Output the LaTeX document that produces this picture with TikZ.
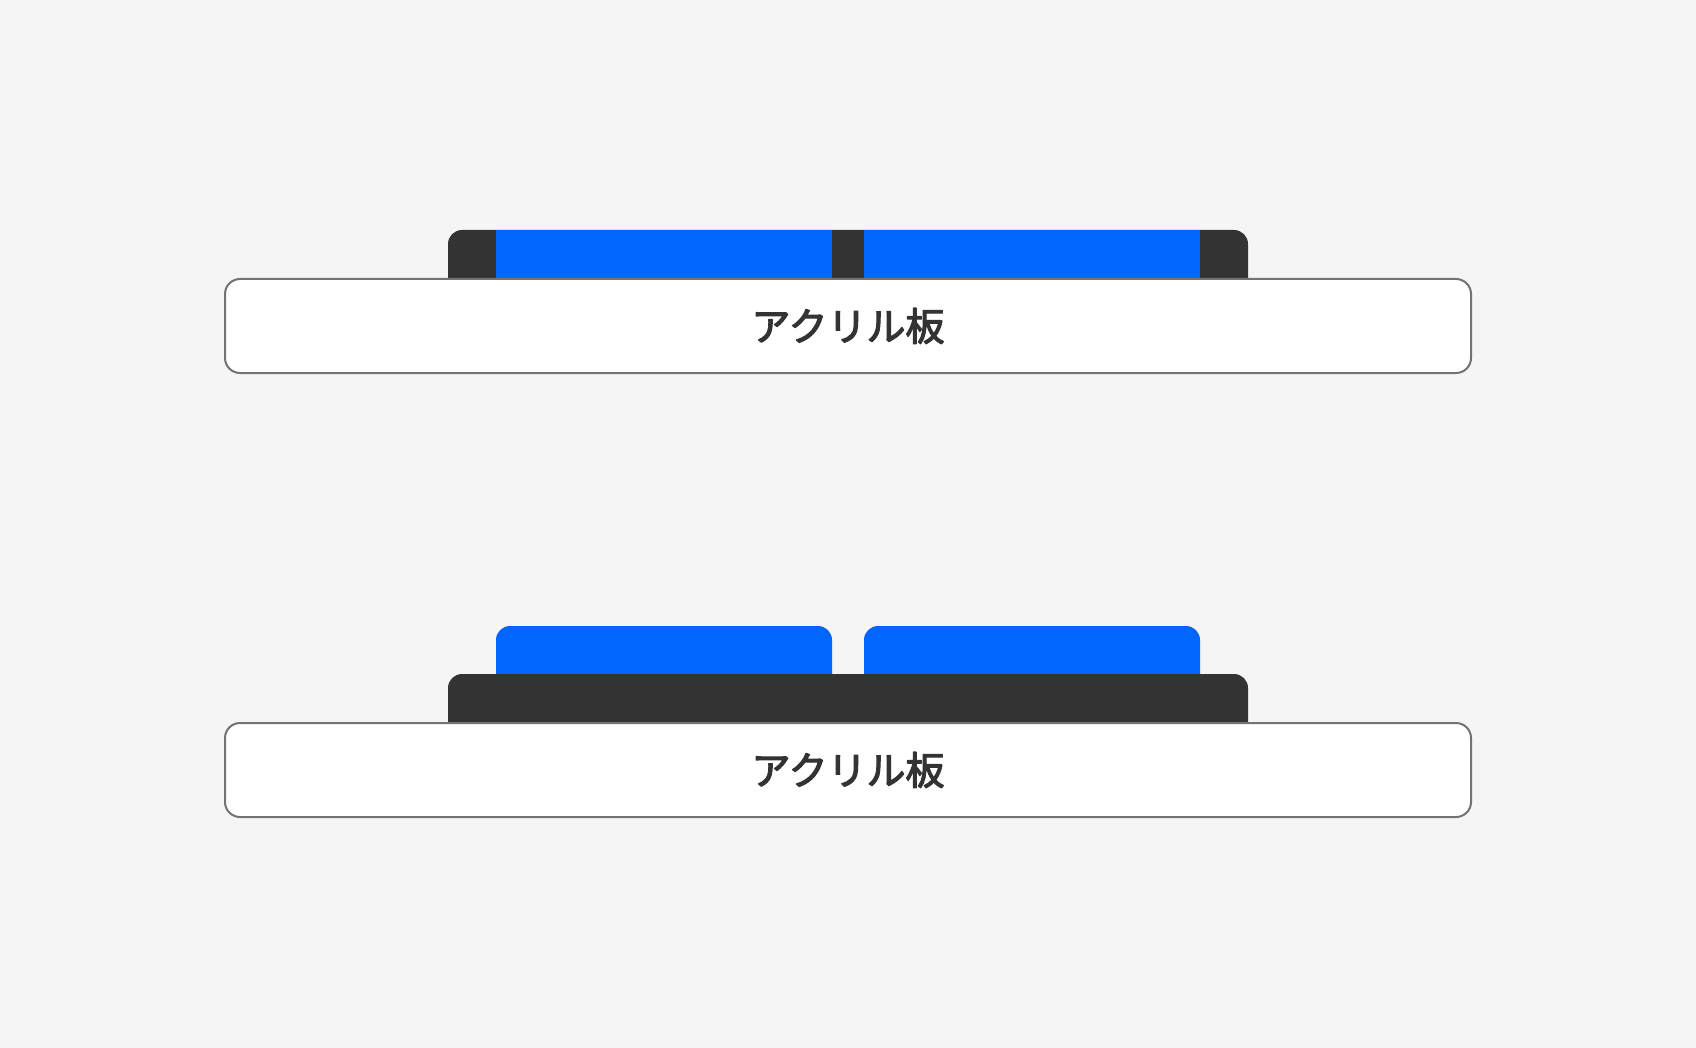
\documentclass[tikz,border=0pt]{standalone}
\usepackage{fontspec}
\newfontfamily\jpfont[UprightFeatures={FakeBold=3}]{Noto Sans CJK JP}
\definecolor{bg}{HTML}{F5F5F5}
\definecolor{ink}{HTML}{333333}
\definecolor{rim}{HTML}{737373}
\definecolor{key}{HTML}{0066FF}
\begin{document}
\begin{tikzpicture}[x=1pt, y=-1pt, line join=round,
	plate/.style={draw=rim, line width=2pt, fill=white, rounded corners=15pt, minimum width=1246pt, minimum height=94pt, text=ink, font=\jpfont\fontsize{39}{47}\selectfont}]
			\fill[bg] (0,0) rectangle (1696,1048);
			\useasboundingbox (0,0) rectangle (1696,1048);
			% upper: keys set into the frame
			\fill[ink, rounded corners=14pt] (448,230) rectangle (1248,300);
			\foreach \x in {496,864}
			\fill[key] (\x,230) rectangle ++(336,60);
			\node[plate] (plateA) at (848,326) {アクリル板};
			% lower: keys on top of the frame
			\foreach \x in {496,864}
			\fill[key, rounded corners=14pt] (\x,626) rectangle ++(336,80);
			\fill[ink, rounded corners=14pt] (448,674) rectangle (1248,740);
			\node[plate] (plateB) at (848,770) {アクリル板};
		\end{tikzpicture}
\end{document}
